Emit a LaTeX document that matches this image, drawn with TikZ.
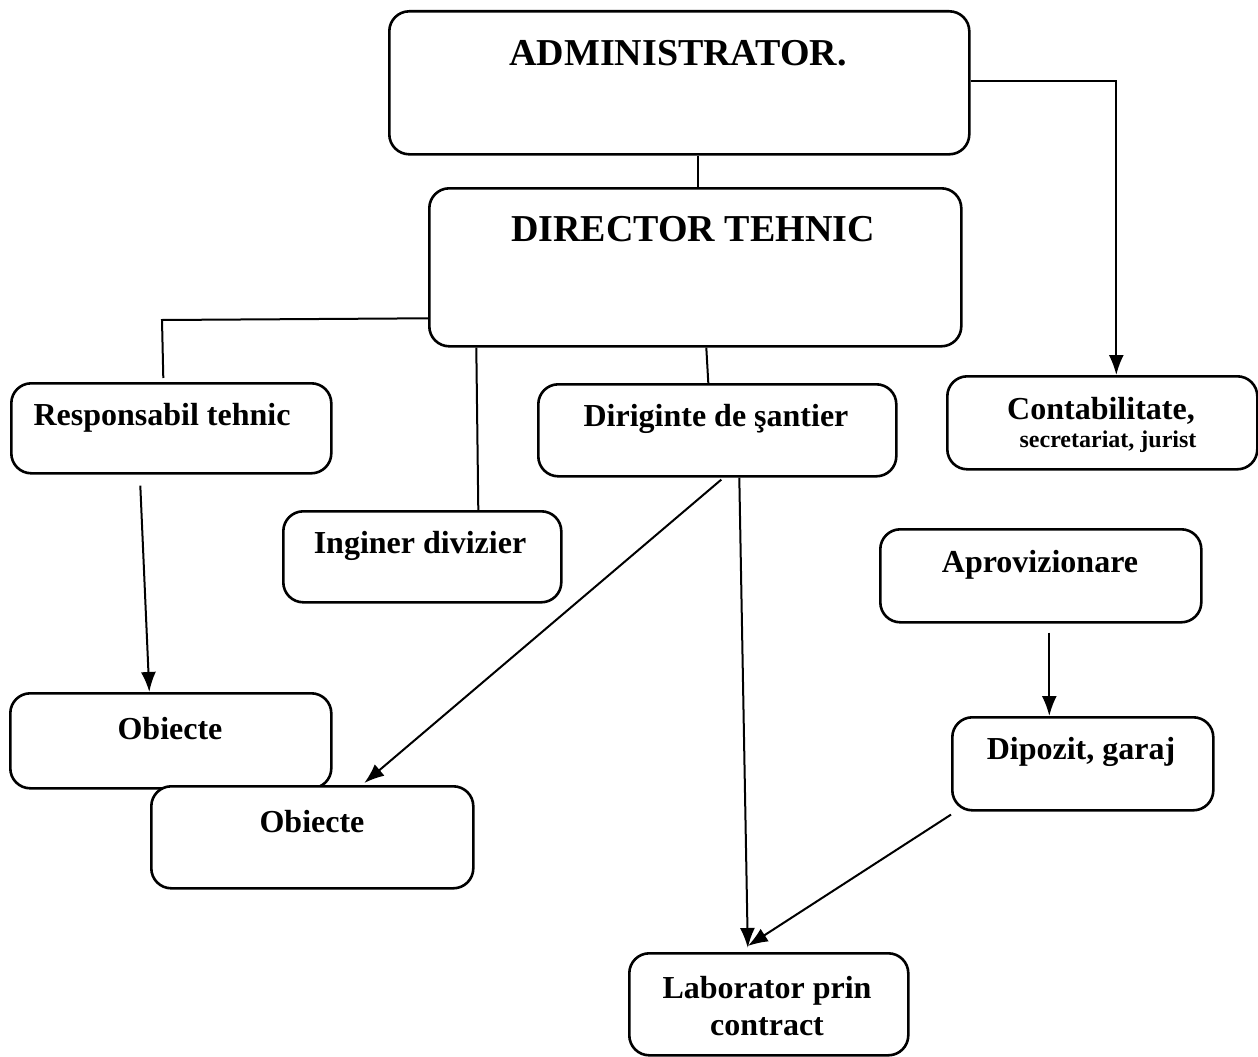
\documentclass[tikz,border=0pt]{standalone}
\usepackage{fontspec}
\setmainfont{Liberation Serif}
\usetikzlibrary{arrows.meta}
\begin{document}
\begin{tikzpicture}[x=1pt,y=-1pt,
  box/.style={draw, fill=white, line width=2.6pt, rounded corners=20pt, anchor=north west, inner sep=0pt},
  big/.style={font=\fontsize{38}{42}\selectfont\bfseries, inner sep=0pt},
  mid/.style={font=\fontsize{32}{37}\selectfont\bfseries, inner sep=0pt},
  sml/.style={font=\fontsize{24}{28}\selectfont\bfseries, inner sep=0pt},
  conn/.style={line width=2pt},
  arr/.style={conn, -{Latex[length=20pt,width=15pt]}}]
\useasboundingbox (0,0) rectangle (1258,1057);

% boxes
\node[box, minimum width=580pt, minimum height=143pt] (adm) at (388,10) {};
\node[box, minimum width=532pt, minimum height=158pt] (dir) at (428,187) {};
\node[box, minimum width=320pt, minimum height=90pt] (resp) at (10,382) {};
\node[box, minimum width=278pt, minimum height=91pt] (ing) at (282,510) {};
\node[box, minimum width=358pt, minimum height=92pt] (dirig) at (537,383) {};
\node[box, minimum width=310pt, minimum height=93pt] (cont) at (946,375) {};
\node[box, minimum width=321pt, minimum height=93pt] (aprov) at (879,528) {};
\node[box, minimum width=261pt, minimum height=93pt] (dep) at (951,716) {};
\node[box, minimum width=321pt, minimum height=95pt] (ob1) at (9,692) {};
\node[box, minimum width=322pt, minimum height=102pt] (ob2) at (150,785) {};
\node[box, minimum width=279pt, minimum height=102pt] (lab) at (628,952) {};

% labels
\node[big] (admT) at (678,53) {ADMINISTRATOR.};
\node[big] (dirT) at (693,229) {DIRECTOR TEHNIC};
\node[mid] (respT) at (162,418) {Responsabil tehnic};
\node[mid] (ingT) at (420,546) {Inginer divizier};
\node[mid] (dirigT) at (716,419) {Diriginte de şantier};
\node[mid] (contT) at (1101,411) {Contabilitate,};
\node[sml] (contT2) at (1108,442) {secretariat, jurist};
\node[mid] (aprovT) at (1040,565) {Aprovizionare};
\node[mid] (depT) at (1081,752) {Dipozit, garaj};
\node[mid] (ob1T) at (170,729) {Obiecte};
\node[mid] (ob2T) at (312,822) {Obiecte};
\node[mid, align=center] (labT) at (767,1006) {Laborator prin\\contract};

% connectors
\coordinate (bendR) at (162,320);
\draw[conn] ([xshift=19pt]adm.south) -- ([xshift=3pt]dir.north);
\draw[arr] ([yshift=1.5pt]adm.east) -| ([xshift=14pt]cont.north);
\draw[conn] ([yshift=-51pt]dir.west) -- (bendR) -- ([xshift=-8pt,yshift=4pt]resp.north);
\draw[conn] ([xshift=-219pt]dir.south) -- ([xshift=56pt]ing.north);
\draw[conn] ([xshift=11pt]dir.south) -- ([xshift=-9pt]dirig.north);
\draw[arr] ([xshift=-31pt,yshift=-11pt]resp.south) -- ([xshift=-21.5pt]ob1.north);
\draw[arr] ([xshift=4pt,yshift=-2pt]dirig.south) -- ([xshift=52pt,yshift=2pt]ob2.north);
\draw[arr] ([xshift=22pt]dirig.south) -- ([xshift=-21pt,yshift=4pt]lab.north);
\draw[arr] ([xshift=8.5pt,yshift=-9pt]aprov.south) -- ([xshift=-33.5pt]dep.north);
\draw[arr] ([yshift=-3pt]dep.south west) -- ([xshift=-21pt,yshift=6pt]lab.north);
\end{tikzpicture}
\end{document}
